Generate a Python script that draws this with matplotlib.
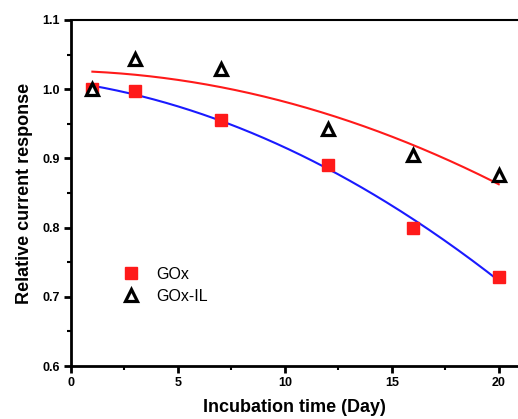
import numpy as np
import matplotlib
matplotlib.use("Agg")
import matplotlib.pyplot as plt
from matplotlib.ticker import MultipleLocator

plt.rcParams["font.family"] = ["Liberation Sans", "DejaVu Sans"]

# incubation days and relative responses
days = [1, 3, 7, 12, 16, 20]
gox = [1.000, 0.997, 0.956, 0.890, 0.800, 0.729]
gox_il = [1.000, 1.043, 1.029, 0.942, 0.905, 0.876]

fig = plt.figure(figsize=(5.18, 4.19), dpi=100)
ax = fig.add_axes([71 / 518, 1 - 366 / 419, 447 / 518, 346 / 419])

# quadratic fit lines, as in the original plot
xf = np.linspace(1, 20, 200)
blue_fit = np.polyval(np.polyfit(days, gox, 2), xf)
red_fit = np.polyval(np.polyfit(days, gox_il, 2), xf)
ax.plot(xf, red_fit, color="#ff1a1a", lw=1.5, zorder=2)
ax.plot(xf, blue_fit, color="#1a1aff", lw=1.5, zorder=2)

ax.plot(days, gox, "s", color="#ff1a1a", ms=8.5, mec="#ff1a1a",
        ls="none", label="GOx", zorder=3)
ax.plot(days, gox_il, "^", mfc="white", mec="black", mew=2.3, ms=8.5,
        ls="none", label="GOx-IL", zorder=4)

ax.set_xlim(0, 20.9)
ax.set_ylim(0.6, 1.1)
ax.xaxis.set_minor_locator(MultipleLocator(2.5))
ax.yaxis.set_minor_locator(MultipleLocator(0.05))
ax.set_xticks([0, 5, 10, 15, 20])
ax.set_yticks([0.6, 0.7, 0.8, 0.9, 1.0, 1.1])

ax.spines["right"].set_visible(False)
for s in ["left", "bottom"]:
    ax.spines[s].set_linewidth(2)
ax.spines["top"].set_linewidth(1.5)
ax.tick_params(which="major", direction="out", length=5, width=2,
               labelsize=9, pad=3)
ax.tick_params(which="minor", direction="out", length=3, width=1.5)
for lab in ax.get_xticklabels() + ax.get_yticklabels():
    lab.set_fontweight("bold")

ax.set_xlabel("Incubation time (Day)", fontsize=13, fontweight="bold",
              labelpad=7)
ax.set_ylabel("Relative current response", fontsize=13, fontweight="bold",
              labelpad=7)

ax.legend(loc="upper left", bbox_to_anchor=(0.08, 0.31), frameon=False,
          fontsize=11.5, handletextpad=0.6, labelspacing=0.45, borderpad=0)

fig.savefig("out.png", dpi=100)
